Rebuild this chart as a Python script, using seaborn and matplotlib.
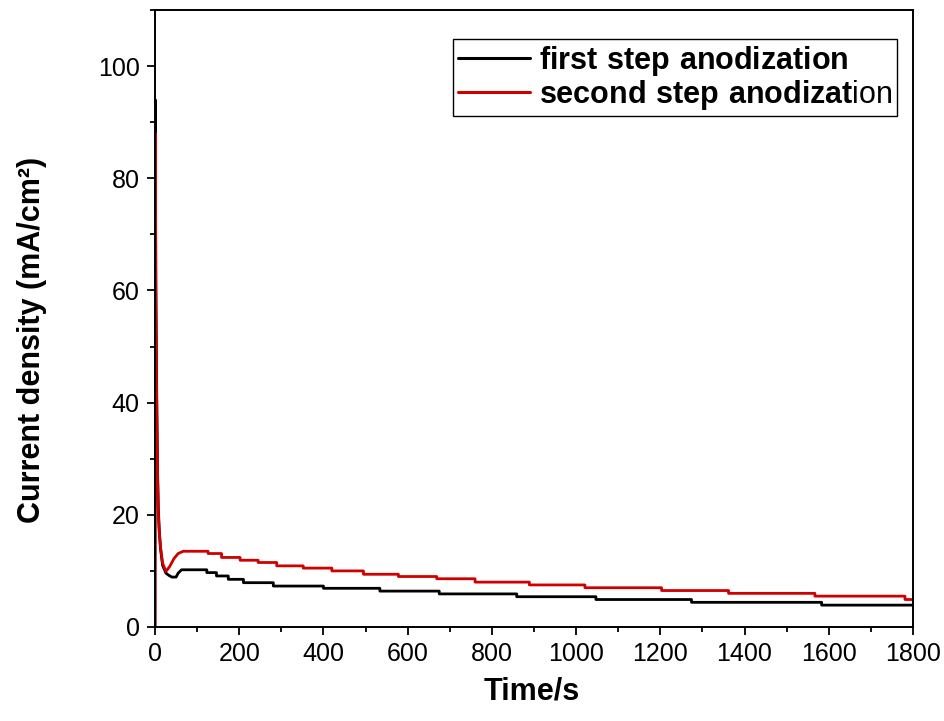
import numpy as np
import pandas as pd
import matplotlib
matplotlib.use("Agg")
import matplotlib.pyplot as plt
from matplotlib.ticker import MultipleLocator
import seaborn as sns

# Dados: queda inicial (curva) + patamares (degraus)
t_inicio_1 = [0, 0.5, 2, 4, 6, 8, 10, 13, 18, 26, 33, 40, 50, 55, 63]
j_inicio_1 = [0, 94, 62, 42, 28, 21, 17.5, 14, 11, 9.6, 9.2, 8.9, 8.9, 9.6, 10.2]
t_degrau_1 = [63, 123, 146, 174, 210, 281, 400, 534, 675, 859, 1047, 1274, 1583]
j_degrau_1 = [10.2, 9.7, 9.1, 8.5, 7.9, 7.3, 6.9, 6.4, 5.9, 5.4, 4.9, 4.4, 3.9]

t_inicio_2 = [0, 0.5, 2, 4, 6, 8, 10, 13, 18, 26, 35, 45, 55, 67]
j_inicio_2 = [0, 88, 58, 40, 27, 20, 17, 14.3, 11.4, 9.9, 10.8, 12.2, 13.1, 13.5]
t_degrau_2 = [67, 126, 158, 202, 245, 289, 352, 420, 495, 578, 669, 760, 889, 1021, 1203, 1362, 1567, 1781]
j_degrau_2 = [13.5, 13.1, 12.4, 11.9, 11.5, 10.9, 10.5, 10.0, 9.4, 9.0, 8.6, 8.0, 7.5, 7.0, 6.5, 6.0, 5.5, 4.9]

t_fim = 1800


def montar_serie(t_ini, j_ini, t_deg, j_deg):
    t = list(t_ini)
    j = list(j_ini)
    fins = t_deg[1:] + [t_fim]
    for a, b, v in zip(t_deg, fins, j_deg):
        t += [a, b]
        j += [v, v]
    return pd.DataFrame({"Tempo": t, "Corrente": j})


df1 = montar_serie(t_inicio_1, j_inicio_1, t_degrau_1, j_degrau_1)
df2 = montar_serie(t_inicio_2, j_inicio_2, t_degrau_2, j_degrau_2)

sns.set_theme(style="ticks")
plt.rcParams['font.family'] = ['Liberation Sans', 'DejaVu Sans']
plt.rcParams['mathtext.fontset'] = 'custom'
plt.rcParams['mathtext.rm'] = 'Liberation Sans'
plt.rcParams['mathtext.bf'] = 'Liberation Sans:bold'
plt.rcParams['text.color'] = 'black'
plt.rcParams['axes.labelcolor'] = 'black'

fig = plt.figure(figsize=(9.45, 7.21), dpi=100)
ax = fig.add_axes([155 / 945, 1 - 627 / 721, 758 / 945, 617 / 721])

sns.lineplot(data=df1, x="Tempo", y="Corrente", sort=False, estimator=None,
             color="black", linewidth=2.0, ax=ax,
             label=r"$\mathbf{first\ step\ anodization}$")
sns.lineplot(data=df2, x="Tempo", y="Corrente", sort=False, estimator=None,
             color="#d10000", linewidth=2.0, ax=ax,
             label=r"$\mathbf{second\ step\ anodizat}$ion")

ax.set_xlim(0, 1800)
ax.set_ylim(0, 110)
ax.xaxis.set_major_locator(MultipleLocator(200))
ax.xaxis.set_minor_locator(MultipleLocator(100))
ax.yaxis.set_major_locator(MultipleLocator(20))
ax.yaxis.set_minor_locator(MultipleLocator(10))
ax.tick_params(which='major', direction='out', length=6, width=1.3, labelsize=18,
               colors='black', pad=5)
ax.tick_params(which='minor', direction='out', length=3.5, width=1.3, colors='black')
for s in ax.spines.values():
    s.set_linewidth(1.4)
    s.set_color('black')

ax.set_xlabel("Time/s", fontsize=22, fontweight='bold', color='black')
ax.set_ylabel("Current density (mA/cm²)", fontsize=22, fontweight='bold', color='black')
ax.xaxis.set_label_coords(0.497, -0.08)
ax.yaxis.set_label_coords(-0.142, 0.465)

leg = ax.legend(loc='upper right', fontsize=22, frameon=True, fancybox=False,
                edgecolor='black', framealpha=1, handlelength=2.35, handletextpad=0.3,
                labelspacing=0.0, borderpad=0.15, borderaxespad=0.0,
                bbox_to_anchor=(897 / 945, 1 - 39 / 721), bbox_transform=fig.transFigure)
leg.get_frame().set_linewidth(1.0)
for linha in leg.get_lines():
    linha.set_linewidth(2.2)
for txt in leg.get_texts():
    txt.set_color('black')

fig.savefig("out.png", dpi=100)
